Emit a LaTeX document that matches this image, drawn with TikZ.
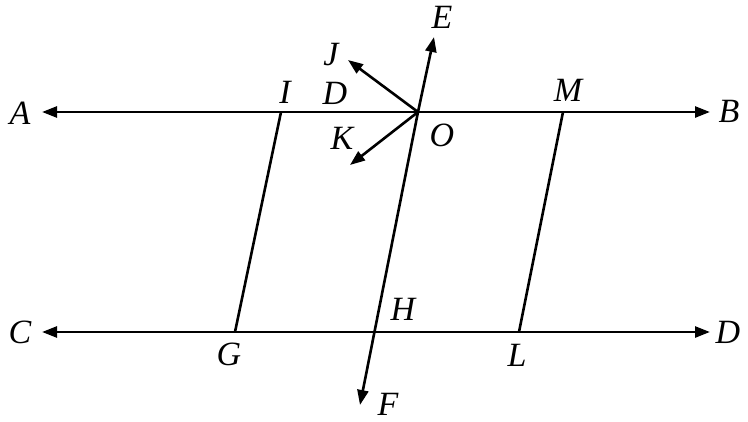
\documentclass[tikz,border=0pt]{standalone}
\usepackage{fontspec}
\setmainfont{Liberation Serif}[ItalicFont={Liberation Serif Italic}]
\usetikzlibrary{arrows.meta}
\begin{document}
\begin{tikzpicture}[x=1pt,y=-1pt,
  ln/.style={line width=2.6pt, line cap=butt},
  arr/.style={ln, -{Triangle[length=15pt,width=11pt]}},
  lbl/.style={font=\fontsize{34}{34}\selectfont\itshape, inner sep=0pt}]
\useasboundingbox (0,0) rectangle (748,421);
% points
\coordinate (Atip) at (42,112);
\coordinate (Btip) at (710,112);
\coordinate (Ctip) at (42,332);
\coordinate (Dtip) at (710,332);
\coordinate (O) at (418,112);
\coordinate (Etip) at (434,37);
\coordinate (Ftip) at (360,405);
\coordinate (Jtip) at (348,60);
\coordinate (Ktip) at (350,165);
\coordinate (I) at (281,112);
\coordinate (G) at (235,332);
\coordinate (M) at (563,112);
\coordinate (L) at (519,332);
\coordinate (mid1) at (376,112);
\coordinate (mid2) at (376,332);
% lines
\draw[arr] (mid1) -- (Atip);
\draw[arr] (mid1) -- (Btip);
\draw[arr] (mid2) -- (Ctip);
\draw[arr] (mid2) -- (Dtip);
\draw[arr] (O) -- (Etip);
\draw[arr] (O) -- (Ftip);
\draw[arr] (O) -- (Jtip);
\draw[arr] (O) -- (Ktip);
\draw[ln] (I) -- (G);
\draw[ln] (M) -- (L);
% labels
\node[lbl] (lA) at (20,113) {A};
\node[lbl] (lB) at (729,111) {B};
\node[lbl] (lC) at (20,332) {C};
\node[lbl] (lD) at (728,332) {D};
\node[lbl] (lI) at (285,92) {I};
\node[lbl] (lDm) at (335,93) {D};
\node[lbl] (lM) at (568,90) {M};
\node[lbl] (lO) at (442,135) {O};
\node[lbl] (lK) at (342,138) {K};
\node[lbl] (lJ) at (331,55) {J};
\node[lbl] (lE) at (442,17) {E};
\node[lbl] (lG) at (229,354) {G};
\node[lbl] (lH) at (403,309) {H};
\node[lbl] (lL) at (517,355) {L};
\node[lbl] (lF) at (388,404) {F};
\end{tikzpicture}
\end{document}
